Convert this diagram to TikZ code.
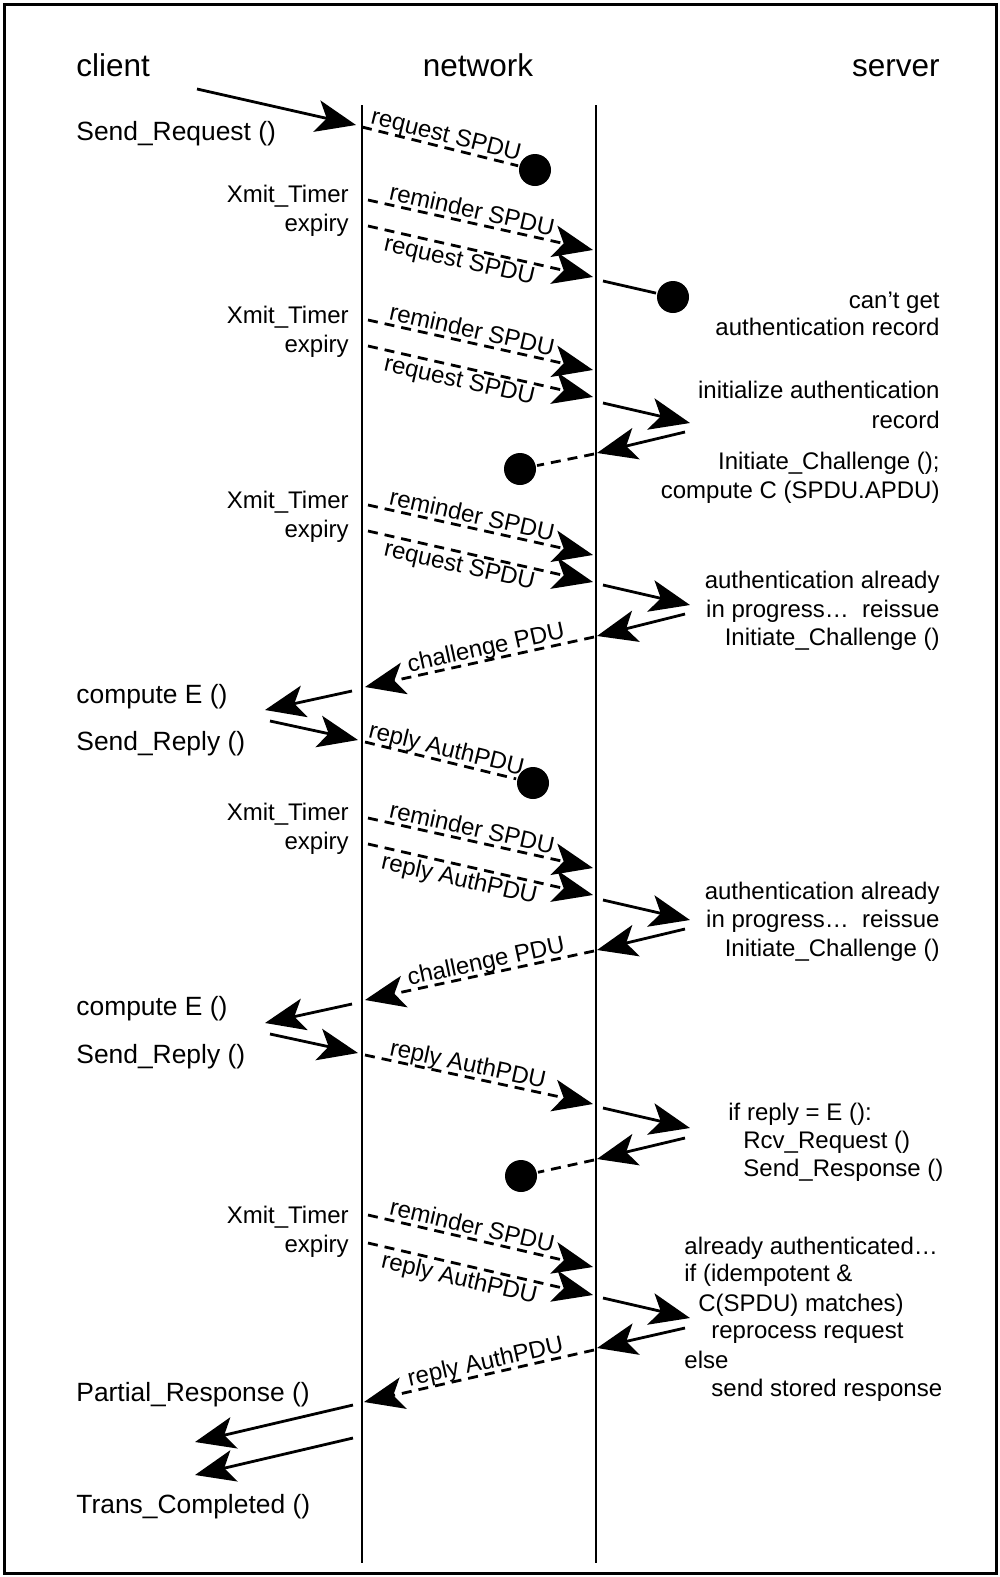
\documentclass[tikz,border=0pt]{standalone}
\usepackage{fontspec}
\setmainfont{Liberation Sans}
\usetikzlibrary{arrows.meta}
\begin{document}
\begin{tikzpicture}[x=1pt,y=-1pt,
  line width=2.8pt,
  arr/.style={-{Stealth[length=40pt,width=32pt,inset=10pt]}},
  msg/.style={dash pattern=on 10pt off 7pt},
  dot/.style={circle,fill,inner sep=0pt,minimum size=32pt},
  hdr/.style={font=\fontsize{31.5}{36}\selectfont,inner sep=0pt},
  fn/.style={font=\fontsize{26.4}{30}\selectfont,inner sep=0pt,anchor=base west},
  txt/.style={font=\fontsize{24}{28}\selectfont,inner sep=0pt},
  txr/.style={txt,anchor=base east},
  txl/.style={txt,anchor=base west},
  lbl/.style={font=\fontsize{24}{28}\selectfont,inner sep=0pt,sloped},
  lblup/.style={lbl,anchor=south,text depth=0pt,outer sep=5pt},
  lbldn/.style={lbl,anchor=north,outer sep=4pt},
]
\useasboundingbox (0,0) rectangle (1000,1577);
% frame
\draw[line width=3pt] (4,4) rectangle (996,1573);

% column headings
\node[hdr,anchor=base west] (hc) at (75,76) {client};
\node[hdr,anchor=base] (hn) at (478,76) {network};
\node[hdr,anchor=base east] (hs) at (941,76) {server};

% network boundaries
\coordinate (nt) at (362,105); \coordinate (nb) at (362,1563);
\coordinate (st) at (596,105); \coordinate (sb) at (596,1563);
\draw (nt) -- (nb);
\draw (st) -- (sb);

% initial request
\node[fn] (sreq) at (75,140) {Send\_Request ()};
\coordinate (a0) at (197,89); \coordinate (a1) at (356,125);
\draw[arr] (a0) -- (a1);
\coordinate (r0) at (362,127); \node[dot] (d1) at (535,170) {};
\draw[msg] (r0) -- node[lblup,pos=0.52]{request SPDU} (d1);

% retransmission 1
\node[txr] (x1a) at (350,202.5) {Xmit\_Timer};
\node[txr] (x1b) at (350,231.5) {expiry};
\coordinate (m1a) at (368,200); \coordinate (m1b) at (593,250);
\coordinate (m1c) at (368,226); \coordinate (m1d) at (593,277);
\draw[msg,arr] (m1a) -- node[lblup,pos=0.45]{reminder SPDU} (m1b);
\draw[msg,arr] (m1c) -- node[lbldn,pos=0.42]{request SPDU} (m1d);
\coordinate (s1) at (603,281); \node[dot] (d2) at (673,297) {};
\draw (s1) -- (d2);
\node[txr] (t1a) at (941,308.5) {can’t get};
\node[txr] (t1b) at (941,335.5) {authentication record};

% retransmission 2
\node[txr] (x2a) at (350,323.5) {Xmit\_Timer};
\node[txr] (x2b) at (350,352.5) {expiry};
\coordinate (m2a) at (368,320); \coordinate (m2b) at (593,370);
\coordinate (m2c) at (368,346); \coordinate (m2d) at (593,397);
\draw[msg,arr] (m2a) -- node[lblup,pos=0.45]{reminder SPDU} (m2b);
\draw[msg,arr] (m2c) -- node[lbldn,pos=0.42]{request SPDU} (m2d);
\coordinate (s2a) at (603,403); \coordinate (s2b) at (690,423);
\coordinate (s2c) at (685,432); \coordinate (s2d) at (597,453);
\draw[arr] (s2a) -- (s2b);
\draw[arr] (s2c) -- (s2d);
\coordinate (s2e) at (594,454); \node[dot] (d3) at (520,469) {};
\draw[msg] (s2e) -- (d3);
\node[txr] (t2a) at (941,398.5) {initialize authentication};
\node[txr] (t2b) at (941,428.5) {record};
\node[txr] (t2c) at (941,469.5) {Initiate\_Challenge ();};
\node[txr] (t2d) at (941,498.5) {compute C (SPDU.APDU)};

% retransmission 3
\node[txr] (x3a) at (350,508.5) {Xmit\_Timer};
\node[txr] (x3b) at (350,537.5) {expiry};
\coordinate (m3a) at (368,505); \coordinate (m3b) at (593,555);
\coordinate (m3c) at (368,531); \coordinate (m3d) at (593,582);
\draw[msg,arr] (m3a) -- node[lblup,pos=0.45]{reminder SPDU} (m3b);
\draw[msg,arr] (m3c) -- node[lbldn,pos=0.42]{request SPDU} (m3d);
\coordinate (s3a) at (603,585); \coordinate (s3b) at (690,605);
\coordinate (s3c) at (685,614); \coordinate (s3d) at (597,636);
\draw[arr] (s3a) -- (s3b);
\draw[arr] (s3c) -- (s3d);
\node[txr] (t3a) at (941,588.5) {authentication already};
\node[txr] (t3b) at (941,617.5) {in progress…~~reissue};
\node[txr] (t3c) at (941,645.5) {Initiate\_Challenge ()};
\coordinate (c3a) at (594,637); \coordinate (c3b) at (365,687);
\draw[msg,arr] (c3a) -- node[lblup,pos=0.46]{challenge PDU} (c3b);
\node[fn] (ce1) at (75,703) {compute E ()};
\coordinate (e3a) at (352,691); \coordinate (e3b) at (265,710);
\draw[arr] (e3a) -- (e3b);
\node[fn] (sr1) at (75,750) {Send\_Reply ()};
\coordinate (e3c) at (270,721); \coordinate (e3d) at (358,740);
\draw[arr] (e3c) -- (e3d);
\coordinate (p3a) at (365,742); \node[dot] (d4) at (533,783) {};
\draw[msg] (p3a) -- node[lblup,pos=0.52]{reply AuthPDU} (d4);

% retransmission 4
\node[txr] (x4a) at (350,820.5) {Xmit\_Timer};
\node[txr] (x4b) at (350,849.5) {expiry};
\coordinate (m4a) at (368,818); \coordinate (m4b) at (593,868);
\coordinate (m4c) at (368,844); \coordinate (m4d) at (593,895);
\draw[msg,arr] (m4a) -- node[lblup,pos=0.45]{reminder SPDU} (m4b);
\draw[msg,arr] (m4c) -- node[lbldn,pos=0.42]{reply AuthPDU} (m4d);
\coordinate (s4a) at (603,900); \coordinate (s4b) at (690,920);
\coordinate (s4c) at (685,929); \coordinate (s4d) at (597,950);
\draw[arr] (s4a) -- (s4b);
\draw[arr] (s4c) -- (s4d);
\node[txr] (t4a) at (941,899.5) {authentication already};
\node[txr] (t4b) at (941,927.5) {in progress…~~reissue};
\node[txr] (t4c) at (941,956.5) {Initiate\_Challenge ()};
\coordinate (c4a) at (594,951); \coordinate (c4b) at (365,1000);
\draw[msg,arr] (c4a) -- node[lblup,pos=0.46]{challenge PDU} (c4b);
\node[fn] (ce2) at (75,1015) {compute E ()};
\coordinate (e4a) at (352,1004); \coordinate (e4b) at (265,1023);
\draw[arr] (e4a) -- (e4b);
\node[fn] (sr2) at (75,1063) {Send\_Reply ()};
\coordinate (e4c) at (270,1034); \coordinate (e4d) at (358,1053);
\draw[arr] (e4c) -- (e4d);
\coordinate (p4a) at (365,1055); \coordinate (p4b) at (593,1104);
\draw[msg,arr] (p4a) -- node[lblup,pos=0.44]{reply AuthPDU} (p4b);

% reply accepted
\coordinate (s5a) at (603,1108); \coordinate (s5b) at (690,1128);
\coordinate (s5c) at (685,1138); \coordinate (s5d) at (597,1159);
\draw[arr] (s5a) -- (s5b);
\draw[arr] (s5c) -- (s5d);
\coordinate (s5e) at (594,1160); \node[dot] (d5) at (521,1176) {};
\draw[msg] (s5e) -- (d5);
\node[txl] (t5a) at (727,1120.5) {if reply = E ():};
\node[txl] (t5b) at (742,1148.5) {Rcv\_Request ()};
\node[txl] (t5c) at (742,1176.5) {Send\_Response ()};

% retransmission 5
\node[txr] (x5a) at (350,1223.5) {Xmit\_Timer};
\node[txr] (x5b) at (350,1252.5) {expiry};
\coordinate (m5a) at (368,1215); \coordinate (m5b) at (593,1267);
\coordinate (m5c) at (368,1243); \coordinate (m5d) at (593,1295);
\draw[msg,arr] (m5a) -- node[lblup,pos=0.45]{reminder SPDU} (m5b);
\draw[msg,arr] (m5c) -- node[lbldn,pos=0.42]{reply AuthPDU} (m5d);
\coordinate (s6a) at (603,1298); \coordinate (s6b) at (690,1318);
\coordinate (s6c) at (685,1328); \coordinate (s6d) at (597,1348);
\draw[arr] (s6a) -- (s6b);
\draw[arr] (s6c) -- (s6d);
\node[txl] (t6a) at (683,1254.5) {already authenticated…};
\node[txl] (t6b) at (683,1281.5) {if (idempotent \&};
\node[txl] (t6c) at (697,1311.5) {C(SPDU) matches)};
\node[txl] (t6d) at (710,1338.5) {reprocess request};
\node[txl] (t6e) at (683,1368.5) {else};
\node[txl] (t6f) at (710,1396.5) {send stored response};
\coordinate (c6a) at (594,1350); \coordinate (c6b) at (364,1402);
\draw[msg,arr] (c6a) -- node[lblup,pos=0.46]{reply AuthPDU} (c6b);

% completion at the client
\node[fn] (pr) at (75,1401) {Partial\_Response ()};
\coordinate (f1a) at (353,1405); \coordinate (f1b) at (195,1442);
\coordinate (f2a) at (353,1438); \coordinate (f2b) at (195,1475);
\draw[arr] (f1a) -- (f1b);
\draw[arr] (f2a) -- (f2b);
\node[fn] (tc) at (75,1513) {Trans\_Completed ()};
\end{tikzpicture}
\end{document}
